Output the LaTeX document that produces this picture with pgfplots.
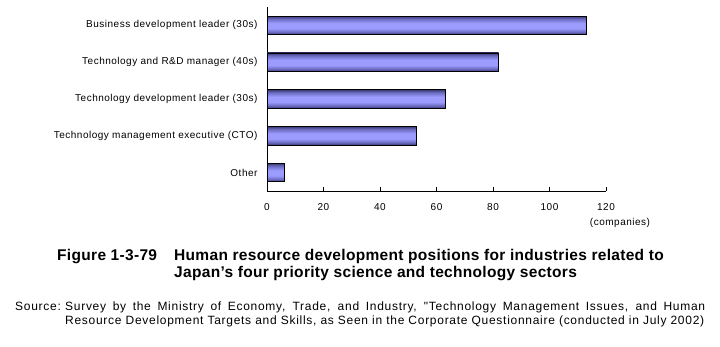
\documentclass[border=0pt]{standalone}
\usepackage{fontspec}
\setmainfont{Liberation Sans}
\newfontfamily\spacedfont[LetterSpace=5]{Liberation Sans}
\newfontfamily\sourcefont[LetterSpace=6]{Liberation Sans}
\newfontfamily\titlefont[LetterSpace=2]{Liberation Sans}
\usepackage{pgfplots}
\pgfplotsset{compat=1.18}
\definecolor{bardark}{HTML}{3A3A72}
\definecolor{barmid}{HTML}{6A6AC0}
\definecolor{barlight}{HTML}{9C9CFF}
\pgfdeclareverticalshading{barshade}{100bp}{color(0bp)=(bardark); color(25bp)=(bardark); color(32bp)=(barmid); color(42bp)=(barlight); color(56bp)=(barlight); color(68bp)=(barmid); color(75bp)=(bardark); color(100bp)=(bardark)}
\begin{document}
\begin{tikzpicture}[x=1pt,y=1pt]
\useasboundingbox (0,0) rectangle (720,347);
\begin{axis}[
  at={(267pt,156pt)}, anchor=south west,
  scale only axis, width=339pt, height=184pt,
  xbar, bar width=18.5pt, bar shift=0pt,
  xmin=0, xmax=120,
  ymin=-0.5, ymax=4.5,
  xtick={0,20,...,120},
  ytick={0,1,2,3,4},
  yticklabels={Other,Technology management executive (CTO),Technology development leader (30s),Technology and R\&D manager (40s),Business development leader (30s)},
  axis x line*=bottom, axis y line*=left,
  axis line style={line width=0.8pt, -},
  major tick length=4pt,
  xtick style={black, line width=0.6pt},
  tick align=inside,
  ytick style={draw=none},
  tick label style={font=\fontsize{10}{12}\spacedfont},
  /pgf/number format/assume math mode=true,
  xticklabel style={anchor=base, yshift=-19.5pt},
  yticklabel style={xshift=-6pt},
  clip=false,
]
\addplot[draw=black, line width=0.7pt, shade, shading=barshade] coordinates {(6,0)};
\addplot[draw=black, line width=0.7pt, shade, shading=barshade] coordinates {(53,1)};
\addplot[draw=black, line width=0.7pt, shade, shading=barshade] coordinates {(63,2)};
\addplot[draw=black, line width=0.7pt, shade, shading=barshade] coordinates {(82,3)};
\addplot[draw=black, line width=0.7pt, shade, shading=barshade] coordinates {(113,4)};
\end{axis}
\node[anchor=center, font=\fontsize{10}{12}\spacedfont] at (620,124) {(companies)};
\node[anchor=base west, inner sep=0, font=\fontsize{15.5}{18}\titlefont\bfseries] at (57,86) {Figure 1-3-79};
\node[anchor=base west, inner sep=0, font=\fontsize{15.5}{18}\titlefont\bfseries] at (174,86) {Human resource development positions for industries related to};
\node[anchor=base west, inner sep=0, font=\fontsize{15.5}{18}\titlefont\bfseries] at (174,69) {Japan’s four priority science and technology sectors};
\node[anchor=base west, font=\fontsize{12}{14}\sourcefont, inner sep=0] at (15,36.3) {Source:};
\node[anchor=base west, font=\fontsize{12}{14}\sourcefont, inner sep=0] at (65,36.3) {\makebox[640pt][s]{Survey by the Ministry of Economy, Trade, and Industry, "Technology Management Issues, and Human}};
\node[anchor=base west, font=\fontsize{12}{14}\sourcefont, inner sep=0] at (65,22.3) {Resource Development Targets and Skills, as Seen in the Corporate Questionnaire (conducted in July 2002)};
\end{tikzpicture}
\end{document}
